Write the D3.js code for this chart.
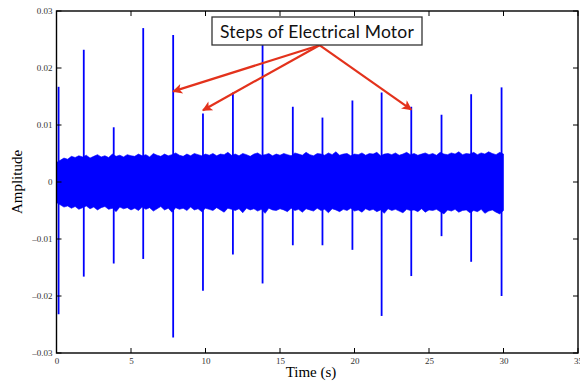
<!DOCTYPE html>
<html>
<head>
<meta charset="utf-8">
<script src="https://cdn.jsdelivr.net/npm/d3@7"></script>
<style>
  body { margin: 0; background: #fff; }
  svg { display: block; }
</style>
</head>
<body>
<svg id="chart" width="580" height="381"></svg>
<script>
// spike events (motor steps)
const spikeTimes = [0.14, 1.83, 3.84, 5.82, 7.83, 9.83, 11.84, 13.83, 15.86, 17.85, 19.86, 21.82, 23.81, 25.84, 27.83, 29.87];
const spikeTops = [0.0167, 0.0232, 0.0096, 0.0270, 0.0258, 0.0120, 0.0157, 0.0250, 0.0132, 0.0113, 0.0143, 0.0157, 0.0132, 0.0118, 0.0154, 0.0166];
const spikeBottoms = [-0.0232, -0.0166, -0.0143, -0.0135, -0.0273, -0.0191, -0.0127, -0.0178, -0.0111, -0.0111, -0.0119, -0.0235, -0.0165, -0.0095, -0.0140, -0.0200];

// noise band envelope, every 0.25 s from 0 to 30 (x 1e-3)
const bandStep = 0.25;
const bandUpper = [
  3.4,3.8,4.2,4.0,4.5,4.3,4.6,4.4,4.7,4.2,4.5,4.8,4.4,4.6,4.3,4.9,4.5,4.7,4.4,4.8,4.6,
  4.5,4.9,4.6,4.8,4.4,5.0,4.7,4.5,4.9,4.6,4.8,5.1,4.7,4.5,4.9,4.6,5.0,4.8,4.6,4.9,
  4.7,5.0,4.6,4.9,4.8,5.2,4.7,4.9,4.6,5.0,4.8,4.5,4.9,5.1,4.7,4.8,5.0,4.6,4.9,4.7,
  5.0,4.8,4.6,5.1,4.9,4.7,5.2,4.8,4.6,5.0,4.9,4.7,5.1,4.8,5.3,4.7,4.9,5.0,4.6,4.9,
  4.8,5.1,4.7,5.0,4.9,5.2,4.6,4.9,5.0,4.8,5.1,4.7,4.9,5.2,4.8,5.0,4.7,4.9,5.1,4.8,
  5.0,4.7,5.2,4.9,4.8,5.1,4.9,5.3,4.8,5.0,4.9,5.2,4.8,5.1,4.9,5.3,5.0,4.8,5.2,4.9
];
const bandLower = [
  3.6,4.0,4.4,4.2,4.6,4.3,4.8,4.5,4.2,4.7,4.4,4.9,4.5,4.3,4.8,4.6,5.2,4.4,4.7,4.5,4.9,
  4.6,5.0,4.4,4.8,4.5,5.1,4.7,4.3,4.9,4.6,5.3,4.5,4.8,4.6,5.0,4.4,4.9,4.7,5.2,4.6,
  4.8,5.0,4.5,4.9,5.3,4.6,4.8,5.0,4.7,5.4,4.6,4.9,4.7,5.1,4.8,5.5,4.6,4.9,5.0,4.7,
  4.9,5.2,4.6,5.0,4.8,5.3,4.7,4.9,5.1,4.6,5.0,4.8,5.4,4.7,4.9,5.2,4.8,5.0,4.6,5.1,
  4.9,5.3,4.7,5.0,4.8,5.2,4.9,5.5,4.7,5.0,4.8,5.1,5.4,4.8,5.0,4.9,5.2,4.7,5.3,4.9,
  5.0,4.8,5.2,5.6,4.9,5.1,4.8,5.3,5.0,4.9,5.4,5.0,5.2,4.8,5.5,5.1,4.9,5.3,5.6,5.0
];

const xTicks = [0, 5, 10, 15, 20, 25, 30, 35];
const yTicks = [-0.03, -0.02, -0.01, 0, 0.01, 0.02, 0.03];

// annotation: text, anchor point and arrow targets (data units)
const noteText = 'Steps of Electrical Motor';
const noteFrom = [17.65, 0.0240];
const noteTargets = [[7.83, 0.0159], [9.83, 0.0126], [23.81, 0.0127]];

const svg = d3.select('#chart');
const plotLeft = 56.5, plotRight = 578, plotTop = 11, plotBottom = 353;

const x = d3.scaleLinear().domain([0, 35]).range([plotLeft, plotRight]);
const y = d3.scaleLinear().domain([-0.03, 0.03]).range([plotBottom, plotTop]);

const blue = '#0000ff';
const red = '#e3321c';

// noise band
const band = bandUpper.map((u, i) => ({ t: i * bandStep, hi: u / 1000, lo: -bandLower[i] / 1000 }));
svg.append('path')
  .datum(band)
  .attr('fill', blue)
  .attr('stroke', blue)
  .attr('stroke-width', 0.6)
  .attr('d', d3.area()
    .x(d => x(d.t))
    .y0(d => y(d.lo))
    .y1(d => y(d.hi)));

// spikes
const spikes = spikeTimes.map((t, i) => ({ t, hi: spikeTops[i], lo: spikeBottoms[i] }));
svg.append('g')
  .selectAll('line')
  .data(spikes)
  .enter()
  .append('line')
  .attr('x1', d => x(d.t))
  .attr('x2', d => x(d.t))
  .attr('y1', d => y(d.hi))
  .attr('y2', d => y(d.lo))
  .attr('stroke', blue)
  .attr('stroke-width', 1.8);

// axes with inward ticks on all four sides (matlab box)
const tickLen = 5;
const fontTick = '"Liberation Serif", "Times New Roman", serif';

const axisBottom = d3.axisBottom(x).tickValues(xTicks).tickSize(0).tickPadding(5)
  .tickFormat(d3.format('d'));
const gx = svg.append('g').attr('transform', `translate(0,${plotBottom})`).call(axisBottom);
gx.select('.domain').remove();
gx.selectAll('text').attr('font-family', fontTick).attr('font-size', 9).attr('fill', '#333');

const axisLeft = d3.axisLeft(y).tickValues(yTicks).tickSize(0).tickPadding(4)
  .tickFormat(d => d === 0 ? '0' : d3.format('.2f')(d).replace('-', '\u2013').replace('\u2212', '\u2013'));
const gy = svg.append('g').attr('transform', `translate(${plotLeft},0)`).call(axisLeft);
gy.select('.domain').remove();
gy.selectAll('text').attr('font-family', fontTick).attr('font-size', 9).attr('fill', '#333');

const ticks = svg.append('g').attr('stroke', '#000').attr('stroke-width', 1);
xTicks.forEach(v => {
  ticks.append('line').attr('x1', x(v)).attr('x2', x(v)).attr('y1', plotBottom).attr('y2', plotBottom - tickLen);
  ticks.append('line').attr('x1', x(v)).attr('x2', x(v)).attr('y1', plotTop).attr('y2', plotTop + tickLen);
});
yTicks.forEach(v => {
  ticks.append('line').attr('x1', plotLeft).attr('x2', plotLeft + tickLen).attr('y1', y(v)).attr('y2', y(v));
  ticks.append('line').attr('x1', plotRight).attr('x2', plotRight - tickLen).attr('y1', y(v)).attr('y2', y(v));
});

svg.append('rect')
  .attr('x', plotLeft).attr('y', plotTop)
  .attr('width', plotRight - plotLeft).attr('height', plotBottom - plotTop)
  .attr('fill', 'none').attr('stroke', '#000').attr('stroke-width', 1.4);

// axis titles
svg.append('text')
  .attr('x', 311).attr('y', 377)
  .attr('text-anchor', 'middle')
  .attr('font-family', fontTick).attr('font-size', 15)
  .text('Time (s)');

svg.append('text')
  .attr('transform', `translate(22,${(plotTop + plotBottom) / 2}) rotate(-90)`)
  .attr('text-anchor', 'middle')
  .attr('font-family', fontTick).attr('font-size', 15)
  .text('Amplitude');

// annotation arrows
svg.append('defs').append('marker')
  .attr('id', 'arrowhead')
  .attr('viewBox', '0 -5 10 10')
  .attr('refX', 9)
  .attr('refY', 0)
  .attr('orient', 'auto')
  .attr('markerUnits', 'userSpaceOnUse')
  .attr('markerWidth', 13)
  .attr('markerHeight', 10)
  .append('path')
  .attr('d', 'M0,-5L10,0L0,5L2.5,0Z')
  .attr('fill', red);

svg.append('g')
  .selectAll('line')
  .data(noteTargets)
  .enter()
  .append('line')
  .attr('x1', x(noteFrom[0]))
  .attr('y1', y(noteFrom[1]))
  .attr('x2', d => x(d[0]))
  .attr('y2', d => y(d[1]))
  .attr('stroke', red)
  .attr('stroke-width', 2.2)
  .attr('marker-end', 'url(#arrowhead)');

// annotation box
const note = svg.append('g');
note.append('rect')
  .attr('x', 212).attr('y', 17)
  .attr('width', 210).attr('height', 28)
  .attr('fill', '#fff')
  .attr('stroke', '#333')
  .attr('stroke-width', 1.3);
note.append('text')
  .attr('x', 317).attr('y', 37.5)
  .attr('text-anchor', 'middle')
  .attr('font-family', 'Lato, "Open Sans", sans-serif')
  .attr('font-size', 17.5)
  .attr('letter-spacing', 0.2)
  .attr('fill', '#111')
  .text(noteText);
</script>
</body>
</html>
